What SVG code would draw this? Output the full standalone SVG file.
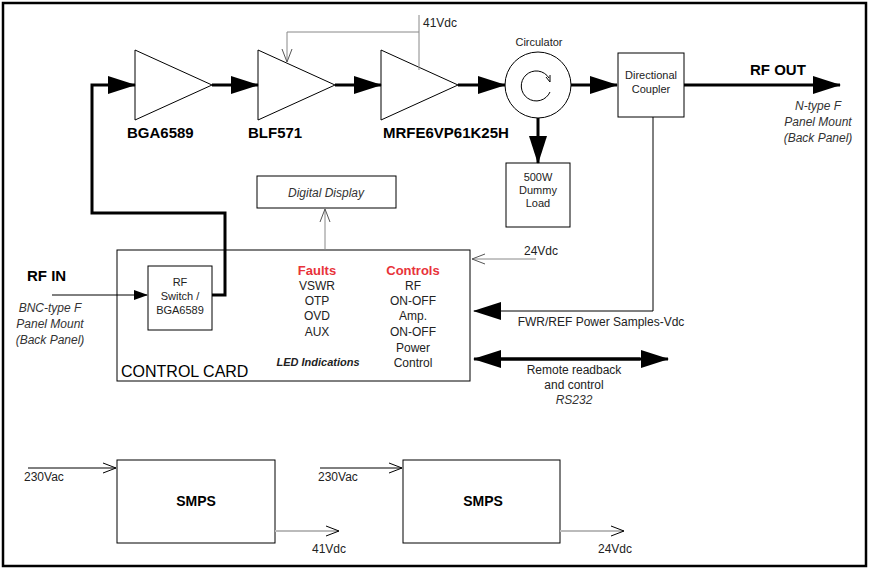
<svg xmlns="http://www.w3.org/2000/svg" width="877" height="570" viewBox="0 0 877 570">
<defs>
<marker id="fa" markerWidth="28" markerHeight="18" refX="27" refY="9" orient="auto" markerUnits="userSpaceOnUse"><path d="M0,0 L28,9 L0,18 Z" fill="#000"/></marker>
<marker id="fs" markerWidth="14" markerHeight="10" refX="13" refY="5" orient="auto" markerUnits="userSpaceOnUse"><path d="M0,0 L14,5 L0,10 Z" fill="#000"/></marker>
<marker id="oa" markerWidth="14" markerHeight="12" refX="13" refY="6" orient="auto" markerUnits="userSpaceOnUse"><path d="M0,1 L13,6 L0,11" fill="none" stroke="#000" stroke-width="1"/></marker>
<marker id="og" markerWidth="14" markerHeight="12" refX="13" refY="6" orient="auto" markerUnits="userSpaceOnUse"><path d="M0,1 L13,6 L0,11" fill="none" stroke="#555" stroke-width="1"/></marker>
</defs>
<style>
text{font-family:"Liberation Sans",Arial,sans-serif;font-size:12px;fill:#222}
.b{font-weight:bold;fill:#000}
.big{font-size:15px}
.s{font-size:11px}
.cc{font-size:16px;fill:#000}
.sm{font-size:14px}
.i{font-style:italic;fill:#333}
.ib{font-style:italic;font-weight:bold;font-size:11px}
.r{fill:#e8333a;font-weight:bold;font-size:13px}
.bx{fill:#fff;stroke:#000;stroke-width:1}
.tri{fill:#fff;stroke:#000;stroke-width:1}
.thick{stroke:#000;stroke-width:3;fill:none}
.thin{stroke:#000;stroke-width:1;fill:none}
.gray{stroke:#888;stroke-width:1;fill:none}
.lg{stroke:#bbb;stroke-width:2;fill:none}
</style>
<rect x="3" y="3" width="863" height="563" fill="#fff" stroke="#000" stroke-width="2.5"/>
<g id="bga6589"><path class="tri" d="M135,50 L212,85 L135,120 Z"/><text x="127" y="138" class="b big">BGA6589</text></g>
<g id="blf571"><path class="tri" d="M258,50 L335,85 L258,120 Z"/><text x="248" y="138" class="b big">BLF571</text></g>
<g id="mrfe"><path class="tri" d="M381,50 L458,85 L381,120 Z"/><text x="383" y="138" class="b big">MRFE6VP61K25H</text></g>
<text x="423" y="27">41Vdc</text>
<g id="circulator">
<circle cx="538" cy="85" r="33" fill="#fff" stroke="#000"/>
<path d="M549,78 A15,15 0 1 0 550,92" class="thin"/>
<path d="M546,77 L550,82 L550,75" class="thin"/>
<text x="539" y="46" text-anchor="middle" class="s">Circulator</text>
</g>
<g id="coupler"><rect class="bx" x="618" y="53" width="66" height="64"/>
<text x="651" y="79" text-anchor="middle" class="s">Directional</text><text x="651" y="93" text-anchor="middle" class="s">Coupler</text></g>
<g id="rfout"><text x="750" y="75" class="b big">RF OUT</text>
<text x="818" y="110" text-anchor="middle" class="i">N-type F</text><text x="818" y="126" text-anchor="middle" class="i">Panel Mount</text><text x="818" y="142" text-anchor="middle" class="i">(Back Panel)</text></g>
<g id="dummy"><rect class="bx" x="506" y="163" width="64" height="64"/>
<text x="538" y="181" text-anchor="middle" class="s">500W</text><text x="538" y="194" text-anchor="middle" class="s">Dummy</text><text x="538" y="207" text-anchor="middle" class="s">Load</text></g>
<g id="display"><rect class="bx" x="257" y="176" width="139" height="32"/><text x="326" y="197" text-anchor="middle" class="i">Digital Display</text></g>
<g id="controlcard"><rect class="bx" x="117" y="250" width="353" height="131"/>
<text x="121" y="377" class="cc">CONTROL CARD</text>
<text x="317" y="275" text-anchor="middle" class="r">Faults</text>
<text x="317" y="290" text-anchor="middle">VSWR</text><text x="317" y="305" text-anchor="middle">OTP</text><text x="317" y="320" text-anchor="middle">OVD</text><text x="317" y="336" text-anchor="middle">AUX</text>
<text x="413" y="275" text-anchor="middle" class="r">Controls</text>
<text x="413" y="290" text-anchor="middle">RF</text><text x="413" y="305" text-anchor="middle">ON-OFF</text><text x="413" y="320" text-anchor="middle">Amp.</text><text x="413" y="336" text-anchor="middle">ON-OFF</text><text x="413" y="352" text-anchor="middle">Power</text><text x="413" y="367" text-anchor="middle">Control</text>
<text x="318" y="366" text-anchor="middle" class="ib">LED Indications</text>
</g>
<g id="rfswitch"><rect class="bx" x="148" y="266" width="64" height="64"/>
<text x="180" y="286" text-anchor="middle" class="s">RF</text><text x="180" y="300" text-anchor="middle" class="s">Switch /</text><text x="180" y="314" text-anchor="middle" class="s">BGA6589</text></g>
<g id="rfin"><text x="27" y="281" class="b big">RF IN</text>
<text x="50" y="312" text-anchor="middle" class="i">BNC-type F</text><text x="50" y="328" text-anchor="middle" class="i">Panel Mount</text><text x="50" y="344" text-anchor="middle" class="i">(Back Panel)</text></g>
<text x="524" y="255">24Vdc</text>
<text x="601" y="326" text-anchor="middle">FWR/REF Power Samples-Vdc</text>
<text x="574" y="374" text-anchor="middle">Remote readback</text><text x="574" y="389" text-anchor="middle">and control</text><text x="574" y="404" text-anchor="middle" class="i">RS232</text>
<g id="smps1"><rect class="bx" x="117" y="460" width="158" height="83"/><text x="196" y="506" text-anchor="middle" class="b sm">SMPS</text></g>
<g id="smps2"><rect class="bx" x="403" y="460" width="157" height="83"/><text x="483" y="506" text-anchor="middle" class="b sm">SMPS</text></g>
<text x="24" y="481">230Vac</text><text x="318" y="481">230Vac</text>
<text x="312" y="553">41Vdc</text><text x="598" y="553">24Vdc</text>
<g id="connectors">
<path class="thick" d="M212,295 H225 V213 H92 V85 H135" marker-end="url(#fa)"/>
<path class="thick" d="M212,85 H258" marker-end="url(#fa)"/>
<path class="thick" d="M335,85 H381" marker-end="url(#fa)"/>
<path class="thick" d="M458,85 H505" marker-end="url(#fa)"/>
<path class="thick" d="M571,85 H617" marker-end="url(#fa)"/>
<path class="thick" d="M684,85 H840" marker-end="url(#fa)"/>
<path class="thick" d="M538,118 V163" marker-end="url(#fa)"/>
<path class="gray" d="M419,15 V70"/>
<path class="gray" d="M287,32 H419"/>
<path class="gray" d="M287,32 V62" marker-end="url(#og)"/>
<path class="gray" d="M325,250 V209" marker-end="url(#og)"/>
<path class="thin" d="M52,295 H147" marker-end="url(#fs)"/>
<path class="gray" d="M536,259 H472" marker-end="url(#og)"/>
<path class="thin" d="M653,117 V311 H474" stroke-width="1.5" marker-end="url(#fa)"/>
<path class="thick" d="M500,359 H668" stroke-width="2" marker-end="url(#fa)"/>
<path class="thick" d="M640,359 H474" stroke-width="2" marker-end="url(#fa)"/>
<path class="thin" d="M28,468 H116" marker-end="url(#oa)"/>
<path class="thin" d="M320,468 H402" marker-end="url(#oa)"/>
<path class="lg" d="M275,531 H339" marker-end="url(#oa)"/>
<path class="lg" d="M560,531 H624" marker-end="url(#oa)"/>
</g>
</svg>
